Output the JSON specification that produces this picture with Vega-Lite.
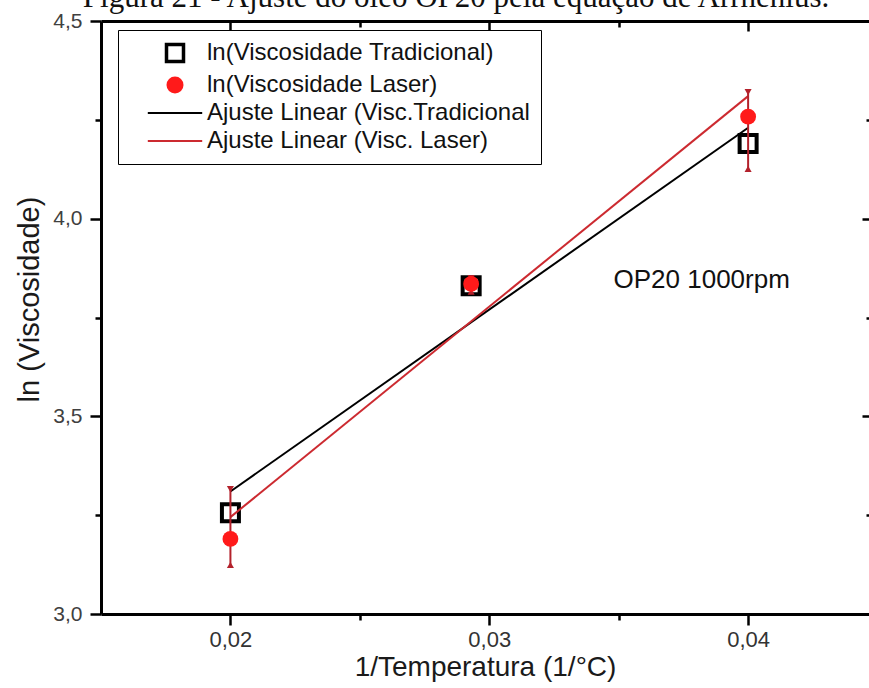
{
  "$schema": "https://vega.github.io/schema/vega-lite/v6.json",
  "width": 768,
  "height": 593,
  "autosize": {"type": "none"},
  "padding": {"left": 101, "top": 21, "right": 0, "bottom": 74},
  "background": "white",
  "title": {
    "text": "Figura 21 - Ajuste do óleo OP20 pela equação de Arrhenius.",
    "font": "Liberation Serif",
    "fontSize": 31,
    "fontWeight": "normal",
    "color": "#111111",
    "baseline": "alphabetic",
    "offset": 0,
    "dx": -29,
    "dy": 28
  },
  "datasets": {
    "tradicional": [
      {"x": 0.02, "y": 3.256, "serie": "ln(Viscosidade Tradicional)"},
      {"x": 0.0293, "y": 3.83, "serie": "ln(Viscosidade Tradicional)"},
      {"x": 0.04, "y": 4.19, "serie": "ln(Viscosidade Tradicional)"}
    ],
    "laser": [
      {"x": 0.02, "y": 3.19, "lo": 3.124, "hi": 3.316, "serie": "ln(Viscosidade Laser)"},
      {"x": 0.0293, "y": 3.835, "lo": 3.815, "hi": 3.85, "serie": "ln(Viscosidade Laser)"},
      {"x": 0.04, "y": 4.258, "lo": 4.126, "hi": 4.32, "serie": "ln(Viscosidade Laser)"}
    ],
    "ajustes": [
      {"x": 0.02, "y": 3.31, "serie": "Ajuste Linear (Visc.Tradicional"},
      {"x": 0.04, "y": 4.23, "serie": "Ajuste Linear (Visc.Tradicional"},
      {"x": 0.02, "y": 3.245, "serie": "Ajuste Linear (Visc. Laser)"},
      {"x": 0.04, "y": 4.31, "serie": "Ajuste Linear (Visc. Laser)"}
    ],
    "anotacao": [
      {"x": 0.0348, "y": 3.845, "texto": "OP20 1000rpm"}
    ]
  },
  "layer": [
    {
      "data": {"name": "tradicional"},
      "mark": {"type": "point", "shape": "square", "filled": false, "size": 289, "strokeWidth": 4, "opacity": 1},
      "encoding": {
        "x": {
          "field": "x", "type": "quantitative",
          "scale": {"domain": [0.015, 0.04467], "nice": false, "zero": false},
          "axis": {
            "orient": "bottom",
            "values": [0.02, 0.025, 0.03, 0.035, 0.04],
            "labelExpr": "abs(datum.value*100 - round(datum.value*100)) < 0.01 ? replace(format(datum.value, '.2f'), '.', ',') : ''",
            "tickSize": {"condition": {"test": "abs(datum.value*100 - round(datum.value*100)) < 0.01", "value": 11}, "value": 6},
            "labelPadding": 4,
            "labelFontSize": 22,
            "labelColor": "#333333",
            "title": "1/Temperatura (1/°C)",
            "titleFontSize": 28,
            "titlePadding": 3
          }
        },
        "y": {
          "field": "y", "type": "quantitative",
          "scale": {"domain": [3.0, 4.5], "nice": false, "zero": false},
          "axis": {
            "orient": "left",
            "values": [3.0, 3.25, 3.5, 3.75, 4.0, 4.25, 4.5],
            "labelExpr": "abs(datum.value*2 - round(datum.value*2)) < 0.01 ? replace(format(datum.value, '.1f'), '.', ',') : ''",
            "tickSize": {"condition": {"test": "abs(datum.value*2 - round(datum.value*2)) < 0.01", "value": 11}, "value": 6},
            "labelPadding": 8,
            "labelFontSize": 21,
            "labelColor": "#404040",
            "title": "ln (Viscosidade)",
            "titleFontSize": 29,
            "titlePadding": 8,
            "titleY": 278
          }
        },
        "color": {
          "field": "serie", "type": "nominal",
          "scale": {
            "domain": ["ln(Viscosidade Tradicional)", "ln(Viscosidade Laser)", "Ajuste Linear (Visc.Tradicional", "Ajuste Linear (Visc. Laser)"],
            "range": ["#000000", "#ff1a1a", "#000000", "#cc2a30"]
          },
          "legend": {
            "title": null,
            "orient": "none",
            "legendX": 17,
            "legendY": 9,
            "padding": 11,
            "strokeColor": "#000000",
            "fillColor": "#ffffff",
            "symbolSize": 289,
            "symbolOffset": 34,
            "labelOffset": 20,
            "rowPadding": 4,
            "labelFont": "Liberation Sans",
            "labelFontSize": 24,
            "labelColor": "#111111",
            "labelLimit": 600,
            "encode": {
              "symbols": {
                "update": {
                  "shape": {"signal": "datum.value == 'ln(Viscosidade Tradicional)' ? 'square' : datum.value == 'ln(Viscosidade Laser)' ? 'circle' : 'M-3.2,0H3.2'"},
                  "fill": {"signal": "datum.value == 'ln(Viscosidade Laser)' ? '#ff1a1a' : '#ffffff'"},
                  "fillOpacity": {"signal": "datum.value == 'ln(Viscosidade Laser)' ? 1 : 0"},
                  "stroke": {"signal": "datum.value == 'ln(Viscosidade Laser)' ? '#ff1a1a' : datum.value == 'Ajuste Linear (Visc. Laser)' ? '#cc2a30' : '#000000'"},
                  "strokeWidth": {"signal": "datum.value == 'ln(Viscosidade Tradicional)' ? 3.5 : datum.value == 'ln(Viscosidade Laser)' ? 0 : 2"},
                  "opacity": {"value": 1}
                }
              }
            }
          }
        }
      }
    },
    {
      "data": {"name": "ajustes"},
      "mark": {"type": "line", "strokeWidth": 2},
      "encoding": {
        "x": {
          "field": "x", "type": "quantitative",
          "axis": {
            "orient": "top",
            "values": [0.02, 0.025, 0.03, 0.035, 0.04],
            "labels": false,
            "title": null,
            "tickSize": {"condition": {"test": "abs(datum.value*100 - round(datum.value*100)) < 0.01", "value": -10}, "value": -6}
          }
        },
        "y": {
          "field": "y", "type": "quantitative",
          "axis": {
            "orient": "right",
            "values": [3.0, 3.25, 3.5, 3.75, 4.0, 4.25, 4.5],
            "labels": false,
            "title": null,
            "domain": false,
            "tickSize": {"condition": {"test": "abs(datum.value*2 - round(datum.value*2)) < 0.01", "value": -7}, "value": -3}
          }
        },
        "color": {
          "field": "serie", "type": "nominal",
          "legend": {
            "title": null,
            "orient": "none",
            "legendX": 17,
            "legendY": 9,
            "padding": 11,
            "strokeColor": "#000000",
            "fillColor": "#ffffff",
            "symbolSize": 289,
            "symbolOffset": 34,
            "labelOffset": 20,
            "rowPadding": 4,
            "labelFont": "Liberation Sans",
            "labelFontSize": 24,
            "labelColor": "#111111",
            "labelLimit": 600,
            "encode": {
              "symbols": {
                "update": {
                  "shape": {"signal": "datum.value == 'ln(Viscosidade Tradicional)' ? 'square' : datum.value == 'ln(Viscosidade Laser)' ? 'circle' : 'M-3.2,0H3.2'"},
                  "fill": {"signal": "datum.value == 'ln(Viscosidade Laser)' ? '#ff1a1a' : '#ffffff'"},
                  "fillOpacity": {"signal": "datum.value == 'ln(Viscosidade Laser)' ? 1 : 0"},
                  "stroke": {"signal": "datum.value == 'ln(Viscosidade Laser)' ? '#ff1a1a' : datum.value == 'Ajuste Linear (Visc. Laser)' ? '#cc2a30' : '#000000'"},
                  "strokeWidth": {"signal": "datum.value == 'ln(Viscosidade Tradicional)' ? 3.5 : datum.value == 'ln(Viscosidade Laser)' ? 0 : 2"},
                  "opacity": {"value": 1}
                }
              }
            }
          }
        },
        "detail": {"field": "serie"}
      }
    },
    {
      "data": {"name": "laser"},
      "mark": {"type": "rule", "color": "#b3212b", "strokeWidth": 2},
      "encoding": {
        "x": {"field": "x", "type": "quantitative", "axis": null},
        "y": {"field": "lo", "type": "quantitative", "axis": null},
        "y2": {"field": "hi"}
      }
    },
    {
      "data": {"name": "laser"},
      "mark": {"type": "point", "shape": "triangle-down", "filled": true, "size": 50, "color": "#b3212b", "opacity": 1},
      "encoding": {
        "x": {"field": "x", "type": "quantitative", "axis": null},
        "y": {"field": "hi", "type": "quantitative", "axis": null}
      }
    },
    {
      "data": {"name": "laser"},
      "mark": {"type": "point", "shape": "triangle-up", "filled": true, "size": 50, "color": "#b3212b", "opacity": 1},
      "encoding": {
        "x": {"field": "x", "type": "quantitative", "axis": null},
        "y": {"field": "lo", "type": "quantitative", "axis": null}
      }
    },
    {
      "data": {"name": "laser"},
      "mark": {"type": "point", "shape": "circle", "filled": true, "size": 250, "opacity": 1},
      "encoding": {
        "x": {"field": "x", "type": "quantitative", "axis": null},
        "y": {"field": "y", "type": "quantitative", "axis": null},
        "color": {
          "field": "serie", "type": "nominal",
          "legend": {
            "title": null,
            "orient": "none",
            "legendX": 17,
            "legendY": 9,
            "padding": 11,
            "strokeColor": "#000000",
            "fillColor": "#ffffff",
            "symbolSize": 289,
            "symbolOffset": 34,
            "labelOffset": 20,
            "rowPadding": 4,
            "labelFont": "Liberation Sans",
            "labelFontSize": 24,
            "labelColor": "#111111",
            "labelLimit": 600,
            "encode": {
              "symbols": {
                "update": {
                  "shape": {"signal": "datum.value == 'ln(Viscosidade Tradicional)' ? 'square' : datum.value == 'ln(Viscosidade Laser)' ? 'circle' : 'M-3.2,0H3.2'"},
                  "fill": {"signal": "datum.value == 'ln(Viscosidade Laser)' ? '#ff1a1a' : '#ffffff'"},
                  "fillOpacity": {"signal": "datum.value == 'ln(Viscosidade Laser)' ? 1 : 0"},
                  "stroke": {"signal": "datum.value == 'ln(Viscosidade Laser)' ? '#ff1a1a' : datum.value == 'Ajuste Linear (Visc. Laser)' ? '#cc2a30' : '#000000'"},
                  "strokeWidth": {"signal": "datum.value == 'ln(Viscosidade Tradicional)' ? 3.5 : datum.value == 'ln(Viscosidade Laser)' ? 0 : 2"},
                  "opacity": {"value": 1}
                }
              }
            }
          }
        }
      }
    },
    {
      "data": {"name": "anotacao"},
      "mark": {"type": "text", "align": "left", "baseline": "middle", "font": "Liberation Sans", "fontSize": 26, "color": "#111111"},
      "encoding": {
        "x": {"field": "x", "type": "quantitative", "axis": null},
        "y": {"field": "y", "type": "quantitative", "axis": null},
        "text": {"field": "texto"}
      }
    }
  ],
  "resolve": {"axis": {"x": "independent", "y": "independent"}},
  "config": {
    "view": {"stroke": null},
    "axis": {
      "grid": false,
      "domainColor": "#000000",
      "domainWidth": 3,
      "tickColor": "#000000",
      "tickWidth": 2.5,
      "labelFont": "Liberation Sans",
      "titleFont": "Liberation Sans",
      "titleFontWeight": "normal",
      "titleColor": "#1a1a1a"
    }
  }
}
